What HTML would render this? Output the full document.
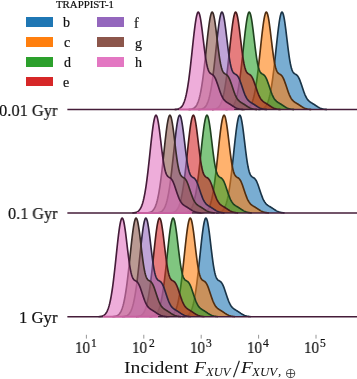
<!DOCTYPE html>
<html><head><meta charset="utf-8"><style>
html,body{margin:0;padding:0;background:#fff;}
body{width:357px;height:379px;position:relative;overflow:hidden;font-family:"Liberation Serif",serif;color:#111;}
.t{position:absolute;white-space:nowrap;line-height:1;transform-origin:0 0;will-change:transform;}
.sw{position:absolute;width:27px;height:9.6px;}
</style></head><body>
<svg width="357" height="379" style="position:absolute;left:0;top:0">
<defs>
<clipPath id="cp"><rect x="67.2" y="0" width="294.8" height="379"/></clipPath>
<path id="o0" d="M-23.5,0 L-22.5,-0.17 L-22,-0.22 L-21.5,-0.29 L-21,-0.38 L-20.5,-0.48 L-20,-0.62 L-19.5,-0.79 L-19,-0.99 L-18.5,-1.25 L-18,-1.57 L-17.5,-1.95 L-17,-2.41 L-16.5,-2.96 L-16,-3.62 L-15.5,-4.40 L-15,-5.32 L-14.5,-6.39 L-14,-7.63 L-13.5,-9.06 L-13,-10.70 L-12.5,-12.56 L-12,-14.66 L-11.5,-17.02 L-11,-19.63 L-10.5,-22.51 L-10,-25.66 L-9.5,-29.08 L-9,-32.75 L-8.5,-36.68 L-8,-40.82 L-7.5,-45.16 L-7,-49.67 L-6.5,-54.29 L-6,-58.97 L-5.5,-63.67 L-5,-68.33 L-4.5,-72.86 L-4,-77.22 L-3.5,-81.32 L-3,-85.10 L-2.5,-88.50 L-2,-91.43 L-1.5,-93.86 L-1,-95.71 L-0.5,-96.94 L0,-97.50 L0.5,-97.32 L1,-96.42 L1.5,-94.85 L2,-92.65 L2.5,-89.90 L3,-86.67 L3.5,-83.05 L4,-79.14 L4.5,-75.04 L5,-70.84 L5.5,-66.65 L6,-62.56 L6.5,-58.63 L7,-54.95 L7.5,-51.56 L8,-48.52 L8.5,-45.83 L9,-43.51 L9.5,-41.57 L10,-39.98 L10.5,-38.71 L11,-37.73 L11.5,-36.99 L12,-36.45 L12.5,-36.05 L13,-35.73 L13.5,-35.46 L14,-35.17 L14.5,-34.84 L15,-34.42 L15.5,-33.90 L16,-33.24 L16.5,-32.44 L17,-31.50 L17.5,-30.42 L18,-29.21 L18.5,-27.90 L19,-26.49 L19.5,-25.03 L20,-23.52 L20.5,-22.00 L21,-20.50 L21.5,-19.03 L22,-17.62 L22.5,-16.29 L23,-15.04 L23.5,-13.89 L24,-12.85 L24.5,-11.92 L25,-11.08 L25.5,-10.35 L26,-9.70 L26.5,-9.14 L27,-8.65 L27.5,-8.21 L28,-7.82 L28.5,-7.47 L29,-7.15 L29.5,-6.83 L30,-6.53 L30.5,-6.23 L31,-5.93 L31.5,-5.62 L32,-5.30 L32.5,-4.98 L33,-4.65 L33.5,-4.31 L34,-3.98 L34.5,-3.65 L35,-3.32 L35.5,-3.00 L36,-2.69 L36.5,-2.39 L37,-2.12 L37.5,-1.85 L38,-1.61 L38.5,-1.39 L39,-1.19 L39.5,-1.02 L40,-0.86 L40.5,-0.72 L41,-0.60 L41.5,-0.49 L42,-0.40 L42.5,-0.32 L43,-0.26 L43.5,-0.21 L44,-0.17 L45,0"/>
<path id="f0" d="M-23.5,0 L-22.5,-0.17 L-22,-0.22 L-21.5,-0.29 L-21,-0.38 L-20.5,-0.48 L-20,-0.62 L-19.5,-0.79 L-19,-0.99 L-18.5,-1.25 L-18,-1.57 L-17.5,-1.95 L-17,-2.41 L-16.5,-2.96 L-16,-3.62 L-15.5,-4.40 L-15,-5.32 L-14.5,-6.39 L-14,-7.63 L-13.5,-9.06 L-13,-10.70 L-12.5,-12.56 L-12,-14.66 L-11.5,-17.02 L-11,-19.63 L-10.5,-22.51 L-10,-25.66 L-9.5,-29.08 L-9,-32.75 L-8.5,-36.68 L-8,-40.82 L-7.5,-45.16 L-7,-49.67 L-6.5,-54.29 L-6,-58.97 L-5.5,-63.67 L-5,-68.33 L-4.5,-72.86 L-4,-77.22 L-3.5,-81.32 L-3,-85.10 L-2.5,-88.50 L-2,-91.43 L-1.5,-93.86 L-1,-95.71 L-0.5,-96.94 L0,-97.50 L0.5,-97.32 L1,-96.42 L1.5,-94.85 L2,-92.65 L2.5,-89.90 L3,-86.67 L3.5,-83.05 L4,-79.14 L4.5,-75.04 L5,-70.84 L5.5,-66.65 L6,-62.56 L6.5,-58.63 L7,-54.95 L7.5,-51.56 L8,-48.52 L8.5,-45.83 L9,-43.51 L9.5,-41.57 L10,-39.98 L10.5,-38.71 L11,-37.73 L11.5,-36.99 L12,-36.45 L12.5,-36.05 L13,-35.73 L13.5,-35.46 L14,-35.17 L14.5,-34.84 L15,-34.42 L15.5,-33.90 L16,-33.24 L16.5,-32.44 L17,-31.50 L17.5,-30.42 L18,-29.21 L18.5,-27.90 L19,-26.49 L19.5,-25.03 L20,-23.52 L20.5,-22.00 L21,-20.50 L21.5,-19.03 L22,-17.62 L22.5,-16.29 L23,-15.04 L23.5,-13.89 L24,-12.85 L24.5,-11.92 L25,-11.08 L25.5,-10.35 L26,-9.70 L26.5,-9.14 L27,-8.65 L27.5,-8.21 L28,-7.82 L28.5,-7.47 L29,-7.15 L29.5,-6.83 L30,-6.53 L30.5,-6.23 L31,-5.93 L31.5,-5.62 L32,-5.30 L32.5,-4.98 L33,-4.65 L33.5,-4.31 L34,-3.98 L34.5,-3.65 L35,-3.32 L35.5,-3.00 L36,-2.69 L36.5,-2.39 L37,-2.12 L37.5,-1.85 L38,-1.61 L38.5,-1.39 L39,-1.19 L39.5,-1.02 L40,-0.86 L40.5,-0.72 L41,-0.60 L41.5,-0.49 L42,-0.40 L42.5,-0.32 L43,-0.26 L43.5,-0.21 L44,-0.17 L45,0 Z"/>
<path id="o1" d="M-23.5,0 L-22.5,-0.17 L-22,-0.22 L-21.5,-0.29 L-21,-0.38 L-20.5,-0.48 L-20,-0.62 L-19.5,-0.79 L-19,-1.00 L-18.5,-1.26 L-18,-1.57 L-17.5,-1.95 L-17,-2.41 L-16.5,-2.97 L-16,-3.63 L-15.5,-4.41 L-15,-5.33 L-14.5,-6.41 L-14,-7.65 L-13.5,-9.09 L-13,-10.74 L-12.5,-12.60 L-12,-14.71 L-11.5,-17.07 L-11,-19.69 L-10.5,-22.58 L-10,-25.74 L-9.5,-29.17 L-9,-32.85 L-8.5,-36.79 L-8,-40.95 L-7.5,-45.30 L-7,-49.82 L-6.5,-54.45 L-6,-59.15 L-5.5,-63.87 L-5,-68.54 L-4.5,-73.09 L-4,-77.46 L-3.5,-81.57 L-3,-85.37 L-2.5,-88.77 L-2,-91.71 L-1.5,-94.14 L-1,-96.00 L-0.5,-97.24 L0,-97.80 L0.5,-97.62 L1,-96.72 L1.5,-95.14 L2,-92.94 L2.5,-90.18 L3,-86.94 L3.5,-83.31 L4,-79.38 L4.5,-75.27 L5,-71.06 L5.5,-66.86 L6,-62.75 L6.5,-58.81 L7,-55.12 L7.5,-51.72 L8,-48.66 L8.5,-45.97 L9,-43.65 L9.5,-41.70 L10,-40.10 L10.5,-38.83 L11,-37.85 L11.5,-37.11 L12,-36.56 L12.5,-36.16 L13,-35.84 L13.5,-35.57 L14,-35.28 L14.5,-34.95 L15,-34.53 L15.5,-34.00 L16,-33.34 L16.5,-32.54 L17,-31.60 L17.5,-30.51 L18,-29.30 L18.5,-27.98 L19,-26.58 L19.5,-25.10 L20,-23.59 L20.5,-22.07 L21,-20.56 L21.5,-19.09 L22,-17.67 L22.5,-16.34 L23,-15.09 L23.5,-13.94 L24,-12.89 L24.5,-11.95 L25,-11.12 L25.5,-10.38 L26,-9.73 L26.5,-9.17 L27,-8.67 L27.5,-8.24 L28,-7.85 L28.5,-7.50 L29,-7.17 L29.5,-6.85 L30,-6.55 L30.5,-6.25 L31,-5.94 L31.5,-5.63 L32,-5.32 L32.5,-4.99 L33,-4.66 L33.5,-4.33 L34,-3.99 L34.5,-3.66 L35,-3.33 L35.5,-3.01 L36,-2.70 L36.5,-2.40 L37,-2.12 L37.5,-1.86 L38,-1.62 L38.5,-1.40 L39,-1.20 L39.5,-1.02 L40,-0.86 L40.5,-0.72 L41,-0.60 L41.5,-0.49 L42,-0.40 L42.5,-0.33 L43,-0.26 L43.5,-0.21 L44,-0.17 L45,0"/>
<path id="f1" d="M-23.5,0 L-22.5,-0.17 L-22,-0.22 L-21.5,-0.29 L-21,-0.38 L-20.5,-0.48 L-20,-0.62 L-19.5,-0.79 L-19,-1.00 L-18.5,-1.26 L-18,-1.57 L-17.5,-1.95 L-17,-2.41 L-16.5,-2.97 L-16,-3.63 L-15.5,-4.41 L-15,-5.33 L-14.5,-6.41 L-14,-7.65 L-13.5,-9.09 L-13,-10.74 L-12.5,-12.60 L-12,-14.71 L-11.5,-17.07 L-11,-19.69 L-10.5,-22.58 L-10,-25.74 L-9.5,-29.17 L-9,-32.85 L-8.5,-36.79 L-8,-40.95 L-7.5,-45.30 L-7,-49.82 L-6.5,-54.45 L-6,-59.15 L-5.5,-63.87 L-5,-68.54 L-4.5,-73.09 L-4,-77.46 L-3.5,-81.57 L-3,-85.37 L-2.5,-88.77 L-2,-91.71 L-1.5,-94.14 L-1,-96.00 L-0.5,-97.24 L0,-97.80 L0.5,-97.62 L1,-96.72 L1.5,-95.14 L2,-92.94 L2.5,-90.18 L3,-86.94 L3.5,-83.31 L4,-79.38 L4.5,-75.27 L5,-71.06 L5.5,-66.86 L6,-62.75 L6.5,-58.81 L7,-55.12 L7.5,-51.72 L8,-48.66 L8.5,-45.97 L9,-43.65 L9.5,-41.70 L10,-40.10 L10.5,-38.83 L11,-37.85 L11.5,-37.11 L12,-36.56 L12.5,-36.16 L13,-35.84 L13.5,-35.57 L14,-35.28 L14.5,-34.95 L15,-34.53 L15.5,-34.00 L16,-33.34 L16.5,-32.54 L17,-31.60 L17.5,-30.51 L18,-29.30 L18.5,-27.98 L19,-26.58 L19.5,-25.10 L20,-23.59 L20.5,-22.07 L21,-20.56 L21.5,-19.09 L22,-17.67 L22.5,-16.34 L23,-15.09 L23.5,-13.94 L24,-12.89 L24.5,-11.95 L25,-11.12 L25.5,-10.38 L26,-9.73 L26.5,-9.17 L27,-8.67 L27.5,-8.24 L28,-7.85 L28.5,-7.50 L29,-7.17 L29.5,-6.85 L30,-6.55 L30.5,-6.25 L31,-5.94 L31.5,-5.63 L32,-5.32 L32.5,-4.99 L33,-4.66 L33.5,-4.33 L34,-3.99 L34.5,-3.66 L35,-3.33 L35.5,-3.01 L36,-2.70 L36.5,-2.40 L37,-2.12 L37.5,-1.86 L38,-1.62 L38.5,-1.40 L39,-1.20 L39.5,-1.02 L40,-0.86 L40.5,-0.72 L41,-0.60 L41.5,-0.49 L42,-0.40 L42.5,-0.33 L43,-0.26 L43.5,-0.21 L44,-0.17 L45,0 Z"/>
<path id="o2" d="M-23.5,0 L-22.5,-0.17 L-22,-0.23 L-21.5,-0.29 L-21,-0.38 L-20.5,-0.49 L-20,-0.62 L-19.5,-0.80 L-19,-1.01 L-18.5,-1.27 L-18,-1.58 L-17.5,-1.97 L-17,-2.43 L-16.5,-2.99 L-16,-3.66 L-15.5,-4.45 L-15,-5.38 L-14.5,-6.46 L-14,-7.72 L-13.5,-9.17 L-13,-10.82 L-12.5,-12.71 L-12,-14.83 L-11.5,-17.21 L-11,-19.85 L-10.5,-22.76 L-10,-25.95 L-9.5,-29.40 L-9,-33.12 L-8.5,-37.09 L-8,-41.28 L-7.5,-45.67 L-7,-50.23 L-6.5,-54.90 L-6,-59.64 L-5.5,-64.39 L-5,-69.10 L-4.5,-73.69 L-4,-78.09 L-3.5,-82.24 L-3,-86.06 L-2.5,-89.49 L-2,-92.47 L-1.5,-94.91 L-1,-96.79 L-0.5,-98.04 L0,-98.60 L0.5,-98.41 L1,-97.51 L1.5,-95.92 L2,-93.70 L2.5,-90.92 L3,-87.65 L3.5,-83.99 L4,-80.03 L4.5,-75.88 L5,-71.64 L5.5,-67.40 L6,-63.26 L6.5,-59.29 L7,-55.57 L7.5,-52.15 L8,-49.06 L8.5,-46.35 L9,-44.01 L9.5,-42.04 L10,-40.43 L10.5,-39.15 L11,-38.16 L11.5,-37.41 L12,-36.86 L12.5,-36.45 L13,-36.13 L13.5,-35.86 L14,-35.57 L14.5,-35.23 L15,-34.81 L15.5,-34.28 L16,-33.61 L16.5,-32.81 L17,-31.86 L17.5,-30.76 L18,-29.54 L18.5,-28.21 L19,-26.79 L19.5,-25.31 L20,-23.79 L20.5,-22.25 L21,-20.73 L21.5,-19.24 L22,-17.82 L22.5,-16.47 L23,-15.21 L23.5,-14.05 L24,-13.00 L24.5,-12.05 L25,-11.21 L25.5,-10.46 L26,-9.81 L26.5,-9.24 L27,-8.74 L27.5,-8.31 L28,-7.91 L28.5,-7.56 L29,-7.23 L29.5,-6.91 L30,-6.60 L30.5,-6.30 L31,-5.99 L31.5,-5.68 L32,-5.36 L32.5,-5.03 L33,-4.70 L33.5,-4.36 L34,-4.02 L34.5,-3.69 L35,-3.35 L35.5,-3.03 L36,-2.72 L36.5,-2.42 L37,-2.14 L37.5,-1.88 L38,-1.63 L38.5,-1.41 L39,-1.21 L39.5,-1.03 L40,-0.87 L40.5,-0.72 L41,-0.60 L41.5,-0.50 L42,-0.41 L42.5,-0.33 L43,-0.26 L43.5,-0.21 L44,-0.17 L45,0"/>
<path id="f2" d="M-23.5,0 L-22.5,-0.17 L-22,-0.23 L-21.5,-0.29 L-21,-0.38 L-20.5,-0.49 L-20,-0.62 L-19.5,-0.80 L-19,-1.01 L-18.5,-1.27 L-18,-1.58 L-17.5,-1.97 L-17,-2.43 L-16.5,-2.99 L-16,-3.66 L-15.5,-4.45 L-15,-5.38 L-14.5,-6.46 L-14,-7.72 L-13.5,-9.17 L-13,-10.82 L-12.5,-12.71 L-12,-14.83 L-11.5,-17.21 L-11,-19.85 L-10.5,-22.76 L-10,-25.95 L-9.5,-29.40 L-9,-33.12 L-8.5,-37.09 L-8,-41.28 L-7.5,-45.67 L-7,-50.23 L-6.5,-54.90 L-6,-59.64 L-5.5,-64.39 L-5,-69.10 L-4.5,-73.69 L-4,-78.09 L-3.5,-82.24 L-3,-86.06 L-2.5,-89.49 L-2,-92.47 L-1.5,-94.91 L-1,-96.79 L-0.5,-98.04 L0,-98.60 L0.5,-98.41 L1,-97.51 L1.5,-95.92 L2,-93.70 L2.5,-90.92 L3,-87.65 L3.5,-83.99 L4,-80.03 L4.5,-75.88 L5,-71.64 L5.5,-67.40 L6,-63.26 L6.5,-59.29 L7,-55.57 L7.5,-52.15 L8,-49.06 L8.5,-46.35 L9,-44.01 L9.5,-42.04 L10,-40.43 L10.5,-39.15 L11,-38.16 L11.5,-37.41 L12,-36.86 L12.5,-36.45 L13,-36.13 L13.5,-35.86 L14,-35.57 L14.5,-35.23 L15,-34.81 L15.5,-34.28 L16,-33.61 L16.5,-32.81 L17,-31.86 L17.5,-30.76 L18,-29.54 L18.5,-28.21 L19,-26.79 L19.5,-25.31 L20,-23.79 L20.5,-22.25 L21,-20.73 L21.5,-19.24 L22,-17.82 L22.5,-16.47 L23,-15.21 L23.5,-14.05 L24,-13.00 L24.5,-12.05 L25,-11.21 L25.5,-10.46 L26,-9.81 L26.5,-9.24 L27,-8.74 L27.5,-8.31 L28,-7.91 L28.5,-7.56 L29,-7.23 L29.5,-6.91 L30,-6.60 L30.5,-6.30 L31,-5.99 L31.5,-5.68 L32,-5.36 L32.5,-5.03 L33,-4.70 L33.5,-4.36 L34,-4.02 L34.5,-3.69 L35,-3.35 L35.5,-3.03 L36,-2.72 L36.5,-2.42 L37,-2.14 L37.5,-1.88 L38,-1.63 L38.5,-1.41 L39,-1.21 L39.5,-1.03 L40,-0.87 L40.5,-0.72 L41,-0.60 L41.5,-0.50 L42,-0.41 L42.5,-0.33 L43,-0.26 L43.5,-0.21 L44,-0.17 L45,0 Z"/>
</defs>
<g clip-path="url(#cp)">
<use href="#f0" transform="translate(281.90,109.6)" fill="#1f77b4" fill-opacity="0.6"/>
<use href="#o0" transform="translate(281.90,109.6)" fill="none" stroke="#1a3447" stroke-width="1.65" stroke-linejoin="round"/>
<use href="#f0" transform="translate(266.23,109.6)" fill="#ff7f0e" fill-opacity="0.6"/>
<use href="#o0" transform="translate(266.23,109.6)" fill="none" stroke="#502e11" stroke-width="1.65" stroke-linejoin="round"/>
<use href="#f0" transform="translate(249.12,109.6)" fill="#2ca02c" fill-opacity="0.6"/>
<use href="#o0" transform="translate(249.12,109.6)" fill="none" stroke="#1f421f" stroke-width="1.65" stroke-linejoin="round"/>
<use href="#f0" transform="translate(235.52,109.6)" fill="#d62728" fill-opacity="0.6"/>
<use href="#o0" transform="translate(235.52,109.6)" fill="none" stroke="#461b1b" stroke-width="1.65" stroke-linejoin="round"/>
<use href="#f0" transform="translate(221.85,109.6)" fill="#9467bd" fill-opacity="0.6"/>
<use href="#o0" transform="translate(221.85,109.6)" fill="none" stroke="#31243d" stroke-width="1.65" stroke-linejoin="round"/>
<use href="#f0" transform="translate(212.07,109.6)" fill="#8c564b" fill-opacity="0.6"/>
<use href="#o0" transform="translate(212.07,109.6)" fill="none" stroke="#3a2a27" stroke-width="1.65" stroke-linejoin="round"/>
<use href="#f0" transform="translate(198.16,109.6)" fill="#e377c2" fill-opacity="0.6"/>
<use href="#o0" transform="translate(198.16,109.6)" fill="none" stroke="#451c39" stroke-width="1.65" stroke-linejoin="round"/>
<line x1="179.16" y1="109.6" x2="234.16" y2="109.6" stroke="#c860a0" stroke-width="2.0"/>
<line x1="67.2" y1="109.6" x2="179.16" y2="109.6" stroke="#451c39" stroke-width="1.5"/>
<line x1="234.16" y1="109.6" x2="357" y2="109.6" stroke="#451c39" stroke-width="1.5"/>
<use href="#f1" transform="translate(239.60,213.0)" fill="#1f77b4" fill-opacity="0.6"/>
<use href="#o1" transform="translate(239.60,213.0)" fill="none" stroke="#1a3447" stroke-width="1.65" stroke-linejoin="round"/>
<use href="#f1" transform="translate(223.93,213.0)" fill="#ff7f0e" fill-opacity="0.6"/>
<use href="#o1" transform="translate(223.93,213.0)" fill="none" stroke="#502e11" stroke-width="1.65" stroke-linejoin="round"/>
<use href="#f1" transform="translate(206.82,213.0)" fill="#2ca02c" fill-opacity="0.6"/>
<use href="#o1" transform="translate(206.82,213.0)" fill="none" stroke="#1f421f" stroke-width="1.65" stroke-linejoin="round"/>
<use href="#f1" transform="translate(193.22,213.0)" fill="#d62728" fill-opacity="0.6"/>
<use href="#o1" transform="translate(193.22,213.0)" fill="none" stroke="#461b1b" stroke-width="1.65" stroke-linejoin="round"/>
<use href="#f1" transform="translate(179.55,213.0)" fill="#9467bd" fill-opacity="0.6"/>
<use href="#o1" transform="translate(179.55,213.0)" fill="none" stroke="#31243d" stroke-width="1.65" stroke-linejoin="round"/>
<use href="#f1" transform="translate(169.77,213.0)" fill="#8c564b" fill-opacity="0.6"/>
<use href="#o1" transform="translate(169.77,213.0)" fill="none" stroke="#3a2a27" stroke-width="1.65" stroke-linejoin="round"/>
<use href="#f1" transform="translate(155.86,213.0)" fill="#e377c2" fill-opacity="0.6"/>
<use href="#o1" transform="translate(155.86,213.0)" fill="none" stroke="#451c39" stroke-width="1.65" stroke-linejoin="round"/>
<line x1="136.86" y1="213.0" x2="191.86" y2="213.0" stroke="#c860a0" stroke-width="2.0"/>
<line x1="67.2" y1="213.0" x2="136.86" y2="213.0" stroke="#451c39" stroke-width="1.5"/>
<line x1="191.86" y1="213.0" x2="357" y2="213.0" stroke="#451c39" stroke-width="1.5"/>
<use href="#f2" transform="translate(205.80,316.7)" fill="#1f77b4" fill-opacity="0.6"/>
<use href="#o2" transform="translate(205.80,316.7)" fill="none" stroke="#1a3447" stroke-width="1.65" stroke-linejoin="round"/>
<use href="#f2" transform="translate(190.13,316.7)" fill="#ff7f0e" fill-opacity="0.6"/>
<use href="#o2" transform="translate(190.13,316.7)" fill="none" stroke="#502e11" stroke-width="1.65" stroke-linejoin="round"/>
<use href="#f2" transform="translate(173.02,316.7)" fill="#2ca02c" fill-opacity="0.6"/>
<use href="#o2" transform="translate(173.02,316.7)" fill="none" stroke="#1f421f" stroke-width="1.65" stroke-linejoin="round"/>
<use href="#f2" transform="translate(159.42,316.7)" fill="#d62728" fill-opacity="0.6"/>
<use href="#o2" transform="translate(159.42,316.7)" fill="none" stroke="#461b1b" stroke-width="1.65" stroke-linejoin="round"/>
<use href="#f2" transform="translate(145.75,316.7)" fill="#9467bd" fill-opacity="0.6"/>
<use href="#o2" transform="translate(145.75,316.7)" fill="none" stroke="#31243d" stroke-width="1.65" stroke-linejoin="round"/>
<use href="#f2" transform="translate(135.97,316.7)" fill="#8c564b" fill-opacity="0.6"/>
<use href="#o2" transform="translate(135.97,316.7)" fill="none" stroke="#3a2a27" stroke-width="1.65" stroke-linejoin="round"/>
<use href="#f2" transform="translate(122.06,316.7)" fill="#e377c2" fill-opacity="0.6"/>
<use href="#o2" transform="translate(122.06,316.7)" fill="none" stroke="#451c39" stroke-width="1.65" stroke-linejoin="round"/>
<line x1="103.06" y1="316.7" x2="158.06" y2="316.7" stroke="#c860a0" stroke-width="2.0"/>
<line x1="67.2" y1="316.7" x2="103.06" y2="316.7" stroke="#451c39" stroke-width="1.5"/>
<line x1="158.06" y1="316.7" x2="357" y2="316.7" stroke="#451c39" stroke-width="1.5"/>
</g>
<line x1="86.4" y1="334.8" x2="86.4" y2="338.6" stroke="#8a8a8a" stroke-width="0.9"/><line x1="143.8" y1="334.8" x2="143.8" y2="338.6" stroke="#8a8a8a" stroke-width="0.9"/><line x1="201.2" y1="334.8" x2="201.2" y2="338.6" stroke="#8a8a8a" stroke-width="0.9"/><line x1="258.6" y1="334.8" x2="258.6" y2="338.6" stroke="#8a8a8a" stroke-width="0.9"/><line x1="316.0" y1="334.8" x2="316.0" y2="338.6" stroke="#8a8a8a" stroke-width="0.9"/><g stroke="#222" stroke-width="0.75" fill="none"><circle cx="290.6" cy="373.5" r="4.1"/><line x1="286.5" y1="373.5" x2="294.7" y2="373.5"/><line x1="290.6" y1="369.4" x2="290.6" y2="377.6"/></g><line x1="233.5" y1="377.3" x2="239.4" y2="360.8" stroke="#222" stroke-width="1.15"/>
</svg>
<div class="sw" style="left:26px;top:17.4px;background:#1f77b4"></div>
<div class="sw" style="left:26px;top:37.3px;background:#ff7f0e"></div>
<div class="sw" style="left:26px;top:57.1px;background:#2ca02c"></div>
<div class="sw" style="left:26px;top:76.9px;background:#d62728"></div>
<div class="sw" style="left:97.4px;top:17.4px;background:#9467bd"></div>
<div class="sw" style="left:97.4px;top:37.3px;background:#8c564b"></div>
<div class="sw" style="left:97.4px;top:57.1px;background:#e377c2"></div>
<div class="t" style="left:55.80px;top:-0.20px;font-size:10px;-webkit-text-stroke:0.2px #111;transform:scale(1.0832,1.0000);">TRAPPIST-1</div>
<div class="t" style="left:62.90px;top:16.30px;font-size:14px;-webkit-text-stroke:0.2px #111;">b</div>
<div class="t" style="left:63.75px;top:36.30px;font-size:14px;-webkit-text-stroke:0.2px #111;">c</div>
<div class="t" style="left:63.95px;top:55.80px;font-size:14px;-webkit-text-stroke:0.2px #111;">d</div>
<div class="t" style="left:63.45px;top:76.00px;font-size:14px;-webkit-text-stroke:0.2px #111;">e</div>
<div class="t" style="left:134.15px;top:17.20px;font-size:14px;-webkit-text-stroke:0.2px #111;">f</div>
<div class="t" style="left:134.95px;top:36.60px;font-size:14px;-webkit-text-stroke:0.2px #111;">g</div>
<div class="t" style="left:134.70px;top:56.00px;font-size:14px;-webkit-text-stroke:0.2px #111;">h</div>
<div class="t" style="left:8.20px;top:205.70px;font-size:16.5px;-webkit-text-stroke:0.2px #111;transform:scale(0.9804,1.0000);">0.1 Gyr</div>
<div class="t" style="left:18.65px;top:310.40px;font-size:16.5px;-webkit-text-stroke:0.2px #111;transform:scale(1.0109,1.0000);">1 Gyr</div>
<div class="t" style="left:-1.40px;top:103.30px;font-size:16.5px;-webkit-text-stroke:0.2px #111;transform:scale(0.9950,1.0000);">0.01 Gyr</div>
<div class="t" style="left:75.25px;top:340.20px;font-size:16.5px;-webkit-text-stroke:0.2px #111;transform:scale(0.9091,1.0000);">10</div>
<div class="t" style="left:90.90px;top:337.50px;font-size:11.5px;-webkit-text-stroke:0.2px #111;">1</div>
<div class="t" style="left:132.45px;top:340.20px;font-size:16.5px;-webkit-text-stroke:0.2px #111;transform:scale(0.9091,1.0000);">10</div>
<div class="t" style="left:148.50px;top:337.50px;font-size:11.5px;-webkit-text-stroke:0.2px #111;">2</div>
<div class="t" style="left:189.65px;top:340.20px;font-size:16.5px;-webkit-text-stroke:0.2px #111;transform:scale(0.9091,1.0000);">10</div>
<div class="t" style="left:206.10px;top:337.50px;font-size:11.5px;-webkit-text-stroke:0.2px #111;">3</div>
<div class="t" style="left:246.85px;top:340.20px;font-size:16.5px;-webkit-text-stroke:0.2px #111;transform:scale(0.9091,1.0000);">10</div>
<div class="t" style="left:262.70px;top:337.50px;font-size:11.5px;-webkit-text-stroke:0.2px #111;">4</div>
<div class="t" style="left:304.05px;top:340.20px;font-size:16.5px;-webkit-text-stroke:0.2px #111;transform:scale(0.9091,1.0000);">10</div>
<div class="t" style="left:320.30px;top:337.50px;font-size:11.5px;-webkit-text-stroke:0.2px #111;">5</div>
<div class="t" style="left:124.40px;top:360.20px;font-size:16.5px;transform:scale(1.1926,1.0000);">Incident</div>
<div class="t" style="left:194.40px;top:358.50px;font-size:17px;font-style:italic;transform:scale(1.1498,1.0000);">F</div>
<div class="t" style="left:206.45px;top:366.20px;font-size:12px;font-style:italic;transform:scale(1.0429,1.0000);">XUV</div>
<div class="t" style="left:240.60px;top:358.50px;font-size:17px;font-style:italic;transform:scale(1.1316,1.0000);">F</div>
<div class="t" style="left:252.20px;top:366.20px;font-size:12px;font-style:italic;transform:scale(1.0757,1.0000);">XUV</div>
<div class="t" style="left:277.70px;top:364.20px;font-size:13px;font-style:italic;">,</div>
</body></html>
